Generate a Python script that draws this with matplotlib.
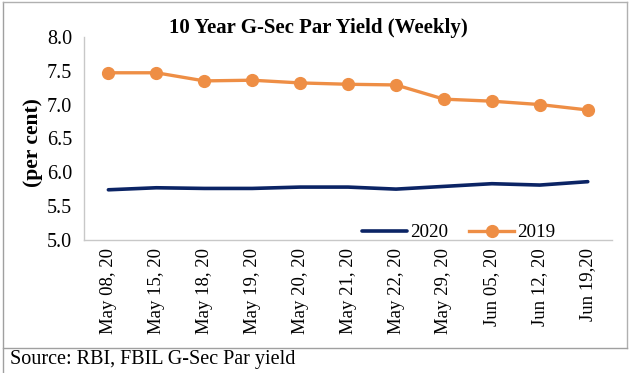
import matplotlib
matplotlib.use("Agg")
import matplotlib.pyplot as plt
from matplotlib.lines import Line2D

dates = ["May 08, 20", "May 15, 20", "May 18, 20", "May 19, 20", "May 20, 20",
         "May 21, 20", "May 22, 20", "May 29, 20", "Jun 05, 20", "Jun 12, 20", "Jun 19,20"]
y2020 = [5.74, 5.77, 5.76, 5.76, 5.78, 5.78, 5.75, 5.79, 5.83, 5.81, 5.86]
y2019 = [7.47, 7.47, 7.35, 7.36, 7.32, 7.30, 7.29, 7.08, 7.05, 7.00, 6.92]
yticks = [5.0, 5.5, 6.0, 6.5, 7.0, 7.5, 8.0]

plt.rcParams['font.family'] = ['Liberation Serif', 'DejaVu Serif']

navy = "#0B2465"
orange = "#EE8E45"
grey = "#C8C8C8"

fig = plt.figure(figsize=(6.3, 3.73), dpi=100)
ax = fig.add_axes([0.134, 0.357, 0.837, 0.544])
x = list(range(len(dates)))
ax.plot(x, y2020, color=navy, lw=2.6, solid_capstyle='round', label="2020")
ax.plot(x, y2019, color=orange, lw=2.4, marker='o', markersize=8.5, label="2019")

ax.set_ylim(5.0, 8.0)
ax.set_yticks(yticks)
ax.set_yticklabels([f"{v:.1f}" for v in yticks], fontsize=14.5)
ax.set_xlim(-0.5, len(dates) - 0.5)
ax.set_xticks(x)
ax.set_xticklabels(dates, rotation=90, fontsize=13.5)
ax.tick_params(axis='y', length=0, pad=9)
ax.tick_params(axis='x', length=0, pad=6)
for s in ['top', 'right']:
    ax.spines[s].set_visible(False)
for s in ['left', 'bottom']:
    ax.spines[s].set_color(grey)
    ax.spines[s].set_linewidth(1.0)
ax.set_ylabel("(per cent)", fontsize=15.5, fontweight='bold', va='center')
ax.yaxis.set_label_coords(-0.098, 0.478)
fig.text(0.505, 0.925, "10 Year G-Sec Par Yield (Weekly)", fontsize=15, fontweight='bold',
         ha='center', va='center')

leg = ax.legend(loc='center left', bbox_to_anchor=(0.527, 0.035), ncol=2, frameon=False,
                fontsize=13.8, handlelength=2.35, handletextpad=0.15, columnspacing=1.1,
                borderpad=0, borderaxespad=0)

# outer frame and separator
fig.add_artist(Line2D([0.004, 0.004], [0.0, 0.995], transform=fig.transFigure, color="#A0A0A0", lw=1))
fig.add_artist(Line2D([0.004, 0.996], [0.995, 0.995], transform=fig.transFigure, color="#B0B0B0", lw=1))
fig.add_artist(Line2D([0.996, 0.996], [0.067, 0.995], transform=fig.transFigure, color="#B0B0B0", lw=1))
fig.add_artist(Line2D([0.004, 0.996], [0.067, 0.067], transform=fig.transFigure, color="#A0A0A0", lw=1))
fig.text(0.016, 0.036, "Source: RBI, FBIL G-Sec Par yield", fontsize=14.5, va='center', ha='left')

fig.savefig("out.png", dpi=100)
